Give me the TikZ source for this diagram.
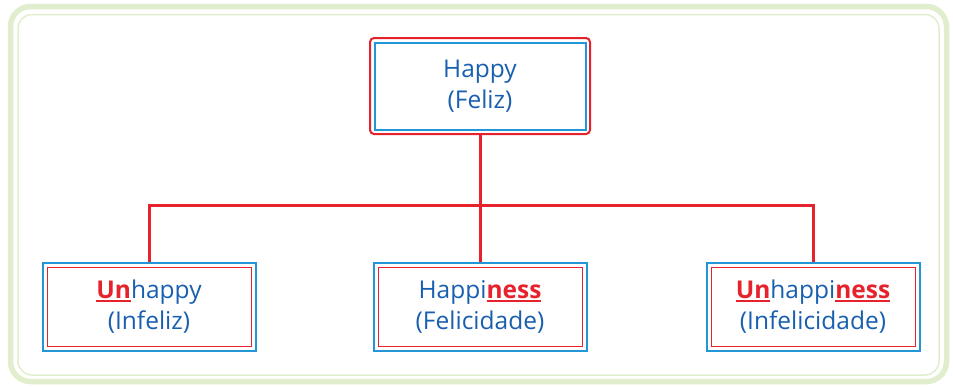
\documentclass[tikz,border=0pt]{standalone}
\usepackage{fontspec}
\setmainfont{Open Sans}
\definecolor{txtblue}{RGB}{25,95,175}
\definecolor{boxblue}{RGB}{35,150,215}
\definecolor{myred}{RGB}{230,35,45}
\definecolor{framegreen}{RGB}{225,238,205}
\newcommand\redpart[1]{{\color{myred}\bfseries\setbox0\hbox{#1}\rlap{\rule[-3pt]{\wd0}{1.5pt}}\box0}}
\tikzset{
  lbl/.style={text=txtblue, font=\fontsize{24.5}{31}\selectfont, align=center},
  conn/.style={myred, line width=3pt},
}
\begin{document}
\begin{tikzpicture}[x=1pt,y=-1pt]
\useasboundingbox (0,0) rectangle (953,386);
% frame
\draw[framegreen, line width=5.5pt, rounded corners=20pt] (10.5,6.5) rectangle (946.5,381.5);
\draw[framegreen, line width=1.5pt, rounded corners=14pt] (18,14.5) rectangle (939,375);
% top box
\draw[myred, line width=2pt, rounded corners=4pt] (370,38) rectangle (590,134);
\draw[boxblue, line width=2pt] (374.5,42.5) rectangle (585.5,129.5);
\node[lbl] (top) at (480,86) {Happy\\(Feliz)};
% bottom boxes
\foreach \cx in {149,480,813}{
  \draw[boxblue, line width=2pt] (\cx-106,263) rectangle (\cx+107,351);
  \draw[myred, line width=1.7pt] (\cx-101.5,267.5) rectangle (\cx+102.5,346.5);
}
\node[lbl] (b1) at (149,307) {\redpart{Un}happy\\(Infeliz)};
\node[lbl] (b2) at (480,307) {Happi\redpart{ness}\\(Felicidade)};
\node[lbl] (b3) at (813,307) {\redpart{Un}happi\redpart{ness}\\(Infelicidade)};
\coordinate (tb) at (480,134);
\coordinate (j) at (480,205);
\coordinate (l) at (149,205);
\coordinate (r) at (813,205);
\coordinate (b1t) at (149,262);
\coordinate (b2t) at (480,262);
\coordinate (b3t) at (813,262);
\draw[conn] (tb) -- (b2t);
\draw[conn] (b1t) -- (l) -- (r) -- (b3t);
\end{tikzpicture}
\end{document}
